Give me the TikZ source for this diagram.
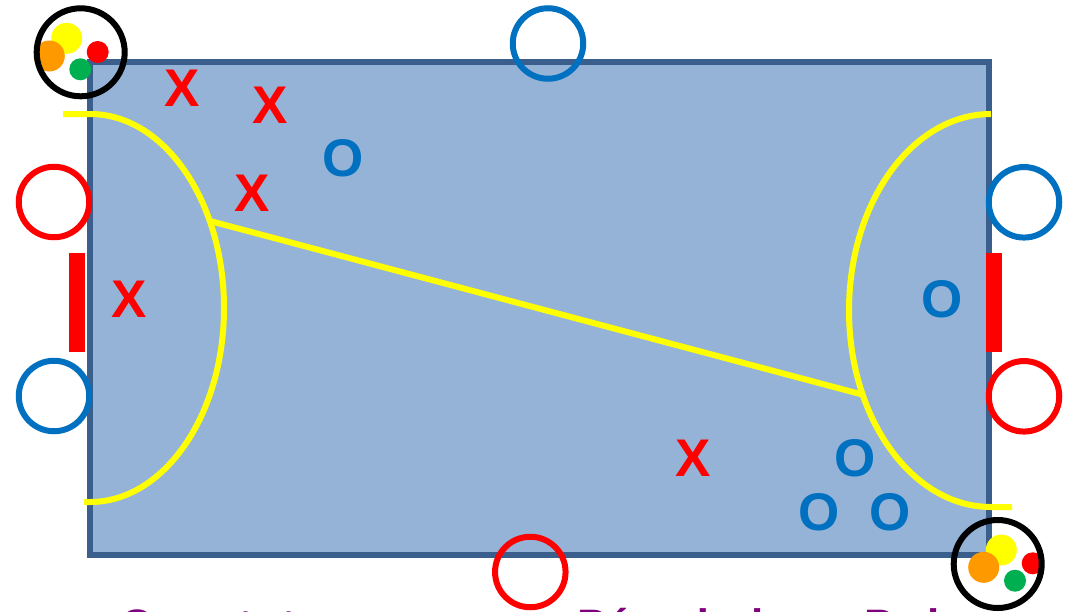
\documentclass[tikz,border=0pt]{standalone}
\usepackage{fontspec}
\setmainfont{Liberation Sans}
\definecolor{field}{HTML}{95B3D7}
\definecolor{fieldline}{HTML}{3B5F8C}
\definecolor{mblue}{HTML}{0070C0}
\definecolor{mred}{HTML}{FF0000}
\definecolor{myellow}{HTML}{FFFF00}
\definecolor{morange}{HTML}{FF9900}
\definecolor{mgreen}{HTML}{00B050}
\definecolor{mpurple}{HTML}{800080}
\tikzset{
  ring/.style={circle,draw=#1,line width=6pt,minimum size=70.5pt,inner sep=0pt,outer sep=0pt},
  bagring/.style={circle,draw=black,line width=6pt,minimum size=88pt,inner sep=0pt,outer sep=0pt},
  bigball/.style={circle,fill=#1,minimum size=31pt,inner sep=0pt,outer sep=0pt},
  smallball/.style={circle,fill=#1,minimum size=22pt,inner sep=0pt,outer sep=0pt},
  xmark/.style={text=mred,font=\fontsize{53}{53}\selectfont\bfseries,inner sep=0pt,xshift=1.2pt},
  omark/.style={text=mblue,font=\fontsize{53}{53}\selectfont\bfseries,inner sep=0pt,xshift=1.2pt},
  goal/.style={fill=mred,draw=none},
  zone/.style={draw=myellow,line width=6pt},
  caption/.style={text=mpurple,font=\fontsize{44}{44}\selectfont\bfseries,anchor=base west,inner sep=0pt}
}
\begin{document}
\begin{tikzpicture}[x=1pt,y=-1pt]
\useasboundingbox (0,0) rectangle (1073,611);
\clip (0,0) rectangle (1073,611);
% field
\draw[fill=field,draw=fieldline,line width=6pt] (89.5,61.5) rectangle (989,555);
% goals
\fill[goal] (69,252.5) rectangle (85,352);
\fill[goal] (985.5,252.5) rectangle (1001.5,352);
% goal zones
\draw[zone] (63,114) -- (90,114) arc[start angle=-90,end angle=90,x radius=134,y radius=194] -- (84,502);
\draw[zone] (991,114) arc[start angle=270,end angle=90,x radius=142,y radius=196.5] -- (1012,507);
% center line
\coordinate (lineA) at (210,221);
\coordinate (lineB) at (864,395);
\draw[zone] (lineA) -- (lineB);
% outer rings
\node[ring=mblue] (topring) at (548,43.5) {};
\node[ring=mred] (leftup) at (54,202) {};
\node[ring=mblue] (leftdown) at (54,396) {};
\node[ring=mblue] (rightup) at (1024,202.3) {};
\node[ring=mred] (rightdown) at (1024,396.3) {};
\node[ring=mred] (bottomring) at (530.3,572) {};
% ball bags
\node[bigball=myellow] (y1) at (66.7,38.3) {};
\node[bigball=morange] (o1) at (49.3,56) {};
\node[smallball=mred] (r1) at (97.7,52) {};
\node[smallball=mgreen] (g1) at (80.3,69.3) {};
\node[bagring] (bag1) at (80.7,52.3) {};
\node[bigball=myellow] (y2) at (1001.3,550) {};
\node[bigball=morange] (o2) at (983.7,567.3) {};
\node[smallball=mred] (r2) at (1032.7,563.3) {};
\node[smallball=mgreen] (g2) at (1015,580.7) {};
\node[bagring] (bag2) at (997.7,564) {};
% players
\node[xmark] (x1) at (181,88) {X};
\node[xmark] (x2) at (269,105) {X};
\node[xmark] (x3) at (251,193) {X};
\node[xmark] (x4) at (128,299) {X};
\node[xmark] (x5) at (692,458) {X};
\node[omark] (o3) at (342,158) {O};
\node[omark] (o4) at (941,299) {O};
\node[omark] (o5) at (854,458) {O};
\node[omark] (o6) at (818,512) {O};
\node[omark] (o7) at (889,512) {O};
% caption, cut off by the picture's lower edge
\node[caption] (c1) at (120,640) {Q};
\node[caption] (c2) at (238,640) {t};
\node[caption] (c3) at (281,640) {t};
\node[caption] (c4) at (577,640) {Pé};
\node[caption] (c5) at (682,640) {d};
\node[caption] (c6) at (751,640) {l};
\node[caption] (c7) at (864,640) {P};
\node[caption] (c8) at (927,640) {l};
\end{tikzpicture}
\end{document}
